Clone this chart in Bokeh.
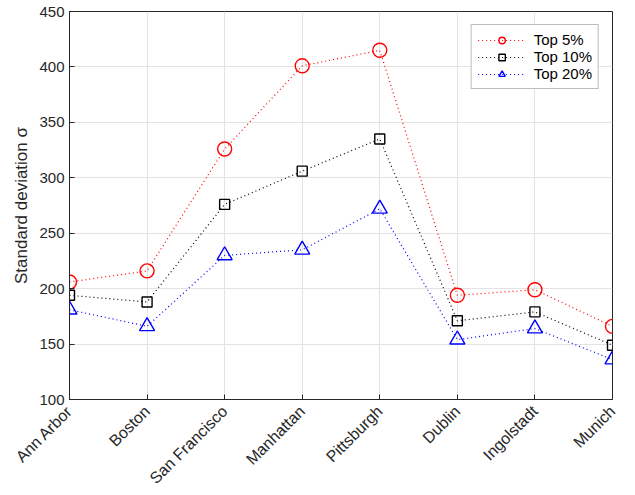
from bokeh.plotting import figure
from bokeh.models import FixedTicker, Range1d, Legend, LegendItem
from bokeh.embed import file_html
from bokeh.resources import INLINE

cities = ["Ann Arbor", "Boston", "San Francisco", "Manhattan",
          "Pittsburgh", "Dublin", "Ingolstadt", "Munich"]
top5 = [206, 216, 326, 401, 415, 194, 199, 166]
top10 = [194, 188, 276, 306, 335, 171, 179, 149]
top20 = [181, 166, 230, 235, 272, 154, 164, 136]
y_ticks = [100, 150, 200, 250, 300, 350, 400, 450]

xs = list(range(len(cities)))
FONT = "Liberation Sans"
INK = "#262626"

p = figure(width=635, height=495, output_backend="svg", toolbar_location=None,
           x_range=Range1d(0, len(cities) - 1), y_range=Range1d(100, 450),
           min_border_left=69, min_border_right=23, min_border_top=11,
           min_border_bottom=96)

p.outline_line_color = INK
p.outline_line_width = 1
p.background_fill_color = "white"
p.border_fill_color = "white"

xax = p.xaxis[0]
yax = p.yaxis[0]
xax.ticker = FixedTicker(ticks=xs)
xax.major_label_overrides = {i: c for i, c in enumerate(cities)}
xax.major_label_orientation = 0.785398
yax.ticker = FixedTicker(ticks=y_ticks)
yax.axis_label = "Standard deviation σ"

for ax in (xax, yax):
    ax.axis_line_color = INK
    ax.major_tick_line_color = INK
    ax.major_tick_in = 5
    ax.major_tick_out = 0
    ax.minor_tick_line_color = None
    ax.major_label_text_font = FONT
    ax.major_label_text_font_size = "15px"
    ax.major_label_text_color = INK
    ax.axis_label_text_font = FONT
    ax.axis_label_text_font_size = "17px"
    ax.axis_label_text_font_style = "normal"
    ax.axis_label_text_color = INK

# slanted city names sit a little lower and larger than the default
xax.major_label_text_font_size = "16px"
xax.major_label_standoff = 9

p.xgrid.grid_line_color = "#e3e3e3"
p.ygrid.grid_line_color = "#e3e3e3"

series = [
    ("Top 5%", top5, "#ff0000", "circle", 14),
    ("Top 10%", top10, "#000000", "square", 10),
    ("Top 20%", top20, "#0000ff", "triangle", 15),
]

items = []
for label, vals, color, marker, size in series:
    ln = p.line(xs, vals, line_color=color, line_width=1.2, line_dash="1 3")
    sc = p.scatter(xs, vals, marker=marker, size=size, line_color=color,
                   line_width=1.4, fill_color=None)
    items.append(LegendItem(label=label, renderers=[ln, sc]))

legend = Legend(items=items, location="top_right")
legend.label_text_font = FONT
legend.label_text_font_size = "15px"
legend.label_text_color = "#000000"
legend.border_line_color = "#7a7a7a"
legend.border_line_width = 1
legend.background_fill_alpha = 1
legend.glyph_width = 48
legend.glyph_height = 16
legend.label_height = 16
legend.spacing = 0
legend.padding = 6
legend.margin = 13
legend.label_standoff = 8
p.add_layout(legend)

open("out.html", "w").write(file_html(p, INLINE))
